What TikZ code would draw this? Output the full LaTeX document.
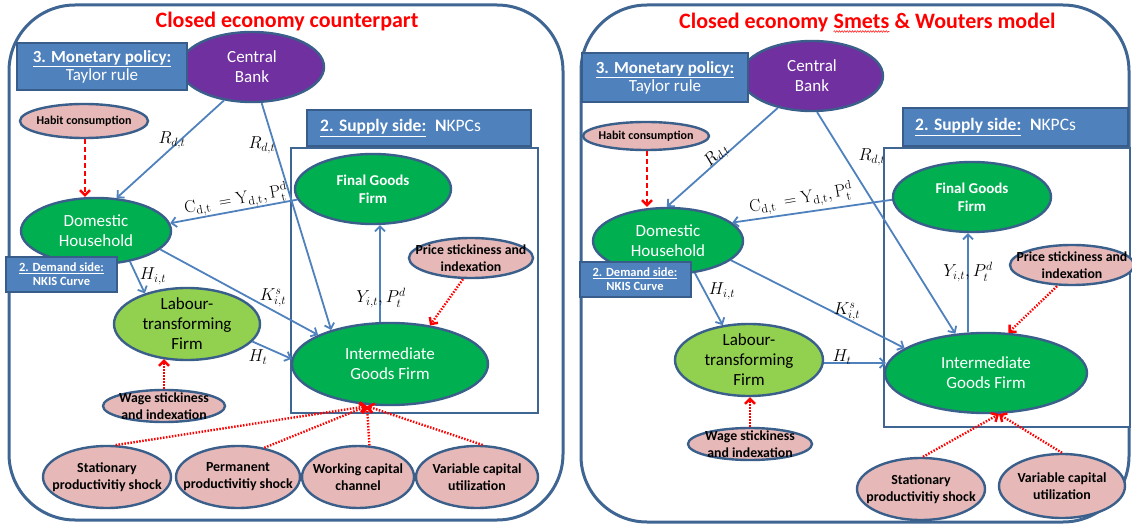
\documentclass[tikz,border=0pt]{standalone}
\usepackage[no-math]{fontspec}
\setmainfont{Carlito}
\usetikzlibrary{shapes.geometric,arrows.meta,decorations.pathmorphing}

\definecolor{panelc}{HTML}{3F6593}
\definecolor{hdrfill}{HTML}{4F81BD}
\definecolor{hdrline}{HTML}{385D8A}
\definecolor{ellline}{HTML}{3A5F8B}
\definecolor{greenA}{HTML}{00B050}
\definecolor{greenB}{HTML}{92D050}
\definecolor{purp}{HTML}{7030A0}
\definecolor{pinkc}{HTML}{E6B9B8}
\definecolor{flowc}{HTML}{4F81BD}

\newcommand\fsz[2]{\fontsize{#1}{#2}\selectfont}
% ellipse drawn empty, its text set on top so the outline keeps its size
\newcommand\ovalat[6]{%
  \node[#1 shape, minimum width=#4pt, minimum height=#5pt] (#2) at #3 {};
  \node[#1 text] (#2-t) at (#2.center) {#6};}

\tikzset{
  panel/.style={draw=panelc, line width=3pt, rounded corners=66pt},
  titletxt/.style={text=red, font=\fsz{22}{26}\bfseries, inner sep=0pt},
  hdrbox/.style={draw=hdrline, fill=hdrfill, line width=2pt, inner sep=0pt},
  hdrtxt/.style={text=white, align=center, inner sep=0pt},
  frame/.style={draw=panelc, fill=white, line width=2.6pt, inner sep=0pt},
  ovalshape/.style={ellipse, draw=ellline, line width=2.4pt, inner sep=0pt},
  bank shape/.style={ovalshape, fill=purp},
  bank text/.style={text=white, font=\fsz{17}{20}, align=center, inner sep=0pt},
  agent shape/.style={ovalshape, fill=greenA},
  agent text/.style={text=white, font=\fsz{17}{20}, align=center, inner sep=0pt},
  firm shape/.style={ovalshape, fill=greenA},
  firm text/.style={text=white, font=\fsz{15}{18}\bfseries, align=center, inner sep=0pt},
  labour shape/.style={ovalshape, fill=greenB},
  labour text/.style={text=black, font=\fsz{17}{20}, align=center, inner sep=0pt},
  friction shape/.style={ovalshape, fill=pinkc},
  friction text/.style={text=black, font=\fsz{13.8}{17}\bfseries, align=center, inner sep=0pt},
  habit shape/.style={ovalshape, fill=pinkc},
  habit text/.style={text=black, font=\fsz{12}{14}\bfseries, align=center, inner sep=0pt},
  shock shape/.style={ovalshape, fill=pinkc},
  shock text/.style={text=black, font=\fsz{13.9}{17}\bfseries, align=center, inner sep=0pt},
  flow/.style={draw=flowc, line width=1.8pt, -{Straight Barb[length=5pt,width=10pt]}},
  nudge/.style={draw=red, line width=2.4pt, dash pattern=on 1.5pt off 1.5pt, -{Straight Barb[length=5pt,width=10pt]}},
  habitlink/.style={draw=red, line width=2.4pt, dash pattern=on 5pt off 3pt, -{Straight Barb[length=5pt,width=10pt]}},
  var/.style={inner sep=0pt, font=\fsz{17}{20}},
}

\begin{document}
\begin{tikzpicture}[x=1pt,y=-1pt]
\useasboundingbox (0,0) rectangle (1132,526);

% ---------------- outer panels and titles ----------------
\draw[panel] (9,5) rectangle (563,520);
\draw[panel] (581,5) rectangle (1129,522);

\node[titletxt, anchor=base] (ttlL) at (287,28) {Closed economy counterpart};
\node[titletxt, anchor=base west] (ttlR-a) at (679,29) {Closed economy};
\node[titletxt, anchor=base west] (ttlR-b) at ([xshift=5pt]ttlR-a.base east) {Smets};
\node[titletxt, anchor=base west] (ttlR-c) at ([xshift=5pt]ttlR-b.base east) {\& Wouters model};
\draw[red!85, line width=0.6pt, decorate, decoration={snake, amplitude=0.8pt, segment length=2.6pt}]
  ([yshift=-2.5pt]ttlR-b.base west) -- ([yshift=-2.5pt]ttlR-b.base east);

% interest-rate label partly covered by the supply frame
\node[var] (rR2) at (872,157) {$R_{d,t}$};

% ---------------- supply-side frames ----------------
\node[frame, minimum width=247pt, minimum height=265pt] (frameL) at (414.5,280.5) {};
\node[frame, minimum width=246pt, minimum height=279pt] (frameR) at (1007,287.5) {};

\node[hdrbox, minimum width=224pt, minimum height=36pt] (supL) at (419,128) {};
\node[hdrtxt, font=\fsz{17.5}{20}, anchor=west] (supL-t) at (320,128)
  {\underline{\textbf{2. Supply side:}}\enspace\textbf{N}KPCs};
\node[hdrbox, minimum width=225pt, minimum height=38pt] (supR) at (1015.5,127) {};
\node[hdrtxt, font=\fsz{17.5}{20}, anchor=west] (supR-t) at (915,127)
  {\underline{\textbf{2. Supply side:}}\enspace\textbf{N}KPCs};

% ---------------- left model ----------------
\ovalat{bank}{cbL}{(252,67)}{144}{70}{Central\\Bank}
\ovalat{habit}{habL}{(84,121)}{128}{34}{Habit consumption}
\ovalat{firm}{fgL}{(373,189)}{156}{70}{Final Goods\\Firm}
\ovalat{agent}{dhL}{(96,231)}{150}{66}{Domestic\\Household}
\ovalat{labour}{labL}{(187,324)}{146}{72}{Labour-\\transforming\\Firm}
\ovalat{agent}{imL}{(390,364)}{196}{82}{Intermediate\\Goods Firm}
\ovalat{friction}{prL}{(471,258)}{124}{40}{Price stickiness and\\indexation}
\ovalat{friction}{wgL}{(164,406)}{122}{32}{Wage stickiness\\and indexation}
\ovalat{shock}{s1L}{(107,477)}{128}{62}{Stationary\\productivitiy shock}
\ovalat{shock}{s2L}{(238,477)}{124}{62}{Permanent\\productivitiy shock}
\ovalat{shock}{s3L}{(358,477)}{112}{62}{Working capital\\channel}
\ovalat{shock}{s4L}{(477,477)}{122}{62}{Variable capital\\utilization}

\draw[flow] (cbL.-130) -- (dhL.58);
\draw[flow] (cbL.-75) -- (imL.150);
\draw[flow] (fgL.-172) -- (dhL.6);
\draw[flow] (dhL.-42) -- (labL.144);
\draw[flow] (dhL.-16) -- (imL.158);
\draw[flow] (labL.-15) -- (imL.177);
\draw[flow] ([xshift=-10pt]imL.north) -- ([xshift=-10pt]imL.north |- fgL.south);
\draw[habitlink] ([xshift=1pt]habL.south) -- ([xshift=1pt]habL.south |- dhL.north);
\draw[nudge] ([xshift=-8pt]prL.south) -- (imL.44);
\draw[nudge] (wgL.north) -- ([yshift=2pt]wgL.north |- labL.south);
\coordinate (hitL) at ([xshift=-23pt]imL.south);
\draw[nudge] (s1L.75) -- (hitL);
\draw[nudge] (s2L.48) -- (hitL);
\draw[nudge] (s3L.70) -- (hitL);
\draw[nudge] (s4L.80) -- (hitL);

\node[var] (rL1) at (172,140) {$R_{d,t}$};
\node[var] (rL2) at (262,145) {$R_{d,t}$};
\node[var, rotate=10] (cL) at (236,200)
  {$\mathrm{C}_{\mathrm{d,t}}\ = \mathrm{Y}_{\mathrm{d,t}}, \mathrm{P}^{\mathrm{d}}_{\mathrm{t}}$};
\node[var] (hL1) at (153,276) {$H_{i,t}$};
\node[var] (kL) at (273,298) {$K^{s}_{i,t}$};
\node[var] (hL2) at (258,357) {$H_t$};
\node[var] (yL) at (381,298) {$Y_{i,t}, P^{d}_{t}$};

% ---------------- right model ----------------
\ovalat{bank}{cbR}{(812,76)}{142}{70}{Central\\Bank}
\ovalat{habit}{habR}{(646,136)}{126}{28}{Habit consumption}
\ovalat{firm}{fgR}{(972,197)}{158}{70}{Final Goods\\Firm}
\ovalat{agent}{dhR}{(668,241)}{150}{66}{Domestic\\Household}
\ovalat{labour}{labR}{(749,360)}{148}{72}{Labour-\\transforming\\Firm}
\ovalat{agent}{imR}{(986,373)}{202}{80}{Intermediate\\Goods Firm}
\ovalat{friction}{prR}{(1072,265)}{124}{40}{Price stickiness and\\indexation}
\ovalat{friction}{wgR}{(750,444)}{124}{32}{Wage stickiness\\and indexation}
\ovalat{shock}{s1R}{(921,489)}{128}{62}{Stationary\\productivitiy shock}
\ovalat{shock}{s4R}{(1062,486)}{126}{64}{Variable capital\\utilization}

\draw[flow] (cbR.-137) -- (dhR.92);
\draw[flow] (cbR.-82) -- (imR.128);
\draw[flow] (fgR.-178) -- (dhR.16);
\draw[flow] (dhR.-50) -- (labR.127);
\draw[flow] (dhR.-17) -- (imR.163);
\draw[flow] ([yshift=-3pt]labR.east) -- ([yshift=-3pt,xshift=2pt]labR.east -| imR.west);
\draw[flow] ([xshift=-4pt]fgR.south |- imR.north) -- ([xshift=-4pt]fgR.south);
\draw[habitlink] ([xshift=1pt]habR.south) -- ([xshift=1pt]habR.south |- dhR.north);
\draw[nudge] ([xshift=-15pt]prR.south) -- (imR.61);
\draw[nudge] (wgR.north) -- (wgR.north |- labR.south);
\coordinate (hitR) at ([xshift=13pt]imR.south);
\draw[nudge] ([xshift=2pt]s1R.north) -- (hitR);
\draw[nudge] (s4R.north) -- (hitR);

\node[var, rotate=45] (rR1) at (717,156) {$R_{d,t}$};
\node[var, rotate=10] (cR) at (801,199)
  {$\mathrm{C}_{\mathrm{d,t}}\ = \mathrm{Y}_{\mathrm{d,t}}, \mathrm{P}^{\mathrm{d}}_{\mathrm{t}}$};
\node[var] (hR1) at (722,291) {$H_{i,t}$};
\node[var] (kR) at (847,312) {$K^{s}_{i,t}$};
\node[var] (hR2) at (842,357) {$H_t$};
\node[var] (yR) at (968,272) {$Y_{i,t}, P^{d}_{t}$};

% ---------------- policy and demand tags ----------------
\node[hdrbox, minimum width=170pt, minimum height=47pt] (monL) at (102,66.5) {};
\node[hdrtxt, font=\fsz{17}{18}] (monL-t) at (monL.center)
  {\underline{\textbf{3. Monetary policy:}}\\Taylor rule};
\node[hdrbox, minimum width=166pt, minimum height=49pt] (monR) at (665,77.5) {};
\node[hdrtxt, font=\fsz{17}{18}] (monR-t) at (monR.center)
  {\underline{\textbf{3. Monetary policy:}}\\Taylor rule};

\node[hdrbox, minimum width=111pt, minimum height=35pt] (demL) at (61.5,274.5) {};
\node[hdrtxt, font=\fsz{12.5}{14}\bfseries] (demL-t) at (demL.center)
  {\underline{2. Demand side:}\\NKIS Curve};
\node[hdrbox, minimum width=111pt, minimum height=35pt] (demR) at (635,279.5) {};
\node[hdrtxt, font=\fsz{12.5}{14}\bfseries] (demR-t) at (demR.center)
  {\underline{2. Demand side:}\\NKIS Curve};
\end{tikzpicture}
\end{document}
